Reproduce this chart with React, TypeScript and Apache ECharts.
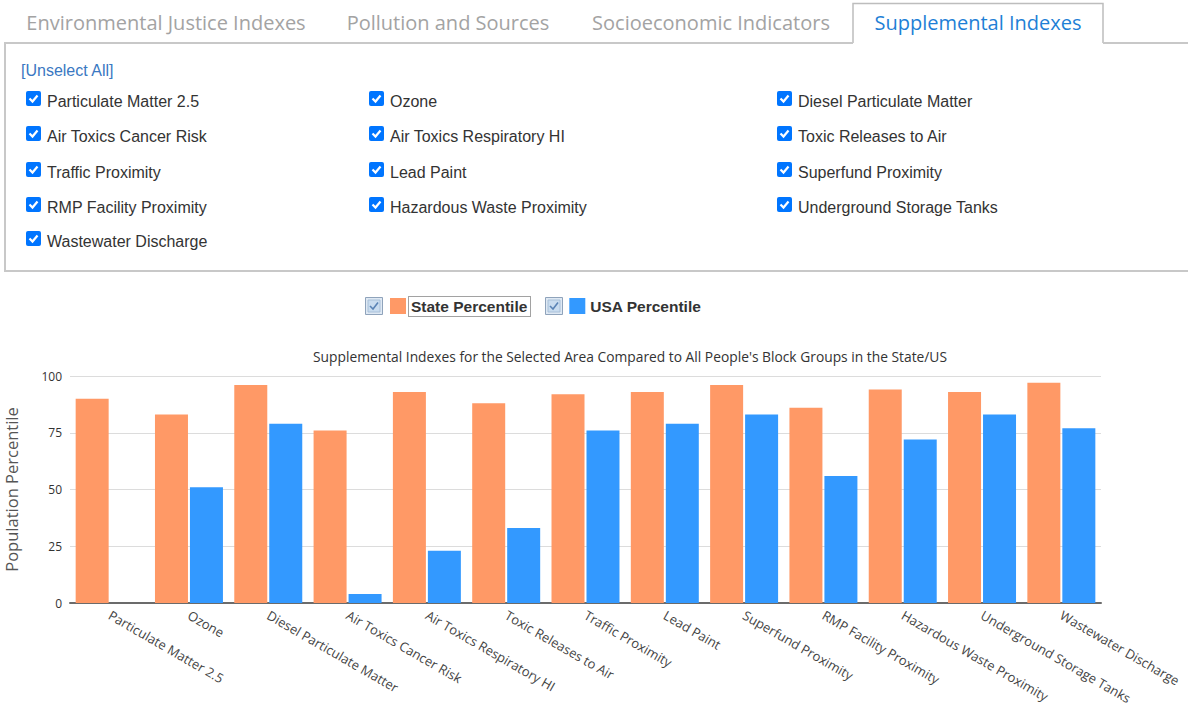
import React, { useEffect, useRef } from "react";
import * as echarts from "echarts";

const categories = [
  "Particulate Matter 2.5",
  "Ozone",
  "Diesel Particulate Matter",
  "Air Toxics Cancer Risk",
  "Air Toxics Respiratory HI",
  "Toxic Releases to Air",
  "Traffic Proximity",
  "Lead Paint",
  "Superfund Proximity",
  "RMP Facility Proximity",
  "Hazardous Waste Proximity",
  "Underground Storage Tanks",
  "Wastewater Discharge",
];
const statePercentile = [90, 83, 96, 76, 93, 88, 92, 93, 96, 86, 94, 93, 97];
const usaPercentile = [null, 51, 79, 4, 23, 33, 76, 79, 83, 56, 72, 83, 77];
const tabs = [
  "Environmental Justice Indexes",
  "Pollution and Sources",
  "Socioeconomic Indicators",
  "Supplemental Indexes",
];
const seriesNames = ["State Percentile", "USA Percentile"];
const chartTitle =
  "Supplemental Indexes for the Selected Area Compared to All People's Block Groups in the State/US";
const yAxisTitle = "Population Percentile";

const UI_FONT = '"Open Sans", "Noto Sans", sans-serif';
const ARIAL = '"Liberation Sans", Arial, sans-serif';

function buildGraphic() {
  const g: any[] = [];
  // tabs
  const tabCenters = [166, 448, 711, 978];
  tabs.forEach((t, i) => {
    g.push({
      type: "text",
      x: tabCenters[i],
      y: 22,
      silent: true,
      style: {
        text: t,
        fontFamily: UI_FONT,
        fontSize: 20,
        fill: i === 3 ? "#1e7fd6" : "#a3a3a3",
        align: "center",
        verticalAlign: "middle",
      },
    });
  });
  // active tab box
  g.push({
    type: "polyline",
    silent: true,
    shape: { points: [[853, 43], [853, 3.5], [1103, 3.5], [1103, 43]] },
    style: { stroke: "#bdbdbd", lineWidth: 1.5, fill: null },
  });
  // panel borders
  g.push({
    type: "polyline",
    silent: true,
    shape: { points: [[853, 43], [5, 43], [5, 271], [1188, 271]] },
    style: { stroke: "#c8c8c8", lineWidth: 2, fill: null },
  });
  g.push({
    type: "line",
    silent: true,
    shape: { x1: 1103, y1: 43, x2: 1188, y2: 43 },
    style: { stroke: "#c8c8c8", lineWidth: 2 },
  });
  // unselect all
  g.push({
    type: "text",
    x: 21,
    y: 70,
    silent: true,
    style: {
      text: "[Unselect All]",
      fontFamily: ARIAL,
      fontSize: 16,
      fill: "#3a78c2",
      verticalAlign: "middle",
    },
  });
  // checkboxes
  const colX = [26, 369, 777];
  const rowY = [100, 135, 171, 206, 240];
  categories.forEach((c, i) => {
    const x = colX[i % 3];
    const yc = rowY[Math.floor(i / 3)];
    g.push({
      type: "rect",
      silent: true,
      shape: { x, y: yc - 9, width: 15, height: 15, r: 2 },
      style: { fill: "#0075ff" },
    });
    g.push({
      type: "polyline",
      silent: true,
      shape: {
        points: [
          [x + 3.5, yc - 1.5],
          [x + 6.5, yc + 1.5],
          [x + 11.5, yc - 4.5],
        ],
      },
      style: { stroke: "#ffffff", lineWidth: 2.2, fill: null },
    });
    g.push({
      type: "text",
      x: x + 21,
      y: yc + 1,
      silent: true,
      style: {
        text: c,
        fontFamily: ARIAL,
        fontSize: 16,
        fill: "#333333",
        verticalAlign: "middle",
      },
    });
  });
  // legend checkboxes (old style)
  [365, 545].forEach((x) => {
    g.push({
      type: "rect",
      silent: true,
      shape: { x: x + 0.5, y: 297.5, width: 17, height: 17 },
      style: { fill: "#dfe9f4", stroke: "#8fa3bb", lineWidth: 1 },
    });
    g.push({
      type: "rect",
      silent: true,
      shape: { x: x + 3, y: 300, width: 12, height: 12 },
      style: { fill: "#c9dcef", stroke: "#a9c0d8", lineWidth: 1 },
    });
    g.push({
      type: "polyline",
      silent: true,
      shape: {
        points: [
          [x + 5, 306],
          [x + 8, 309],
          [x + 13, 302.5],
        ],
      },
      style: { stroke: "#5a83b5", lineWidth: 1.6, fill: null },
    });
  });
  // dotted focus border
  g.push({
    type: "rect",
    silent: true,
    shape: { x: 408.5, y: 296.5, width: 122, height: 20 },
    style: { fill: null, stroke: "#444", lineWidth: 1, lineDash: [1, 1] },
  });
  return g;
}

export default function App() {
  const ref = useRef<HTMLDivElement>(null);
  useEffect(() => {
    if (!ref.current) return;
    const chart = echarts.init(ref.current, null, { renderer: "svg" });
    chart.setOption({
      animation: false,
      backgroundColor: "#ffffff",
      title: {
        text: chartTitle,
        left: 630,
        top: 349,
        textAlign: "center",
        padding: 0,
        textStyle: {
          fontFamily: UI_FONT,
          fontSize: 13.8,
          fontWeight: "normal",
          color: "#333333",
        },
      },
      legend: {
        left: 390,
        top: 298,
        padding: 0,
        itemWidth: 16,
        itemHeight: 16,
        itemGap: 42,
        icon: "rect",
        data: seriesNames,
        itemStyle: { borderWidth: 0 },
        textStyle: {
          fontFamily: ARIAL,
          fontSize: 15.5,
          fontWeight: "bold",
          color: "#333333",
        },
      },
      grid: {
        left: 70,
        right: 87,
        top: 376,
        bottom: 105,
        containLabel: false,
        outerBoundsMode: "none",
      },
      xAxis: {
        type: "category",
        data: categories,
        axisLine: { lineStyle: { color: "#6b6b6b", width: 2 } },
        axisTick: { show: false },
        axisLabel: {
          interval: 0,
          rotate: -30,
          margin: 11,
          fontFamily: UI_FONT,
          fontSize: 13,
          color: "#444444",
        },
      },
      yAxis: {
        type: "value",
        min: 0,
        max: 100,
        interval: 25,
        name: yAxisTitle,
        nameLocation: "middle",
        nameGap: 50,
        nameTextStyle: { fontFamily: UI_FONT, fontSize: 16.5, color: "#555555" },
        axisLine: { show: false },
        axisTick: { show: false },
        axisLabel: { fontFamily: UI_FONT, fontSize: 12, color: "#333333", margin: 8 },
        splitLine: { lineStyle: { color: "#dcdcdc", width: 1 } },
      },
      series: [
        {
          name: seriesNames[0],
          type: "bar",
          data: statePercentile,
          barWidth: 33,
          barGap: "6%",
          itemStyle: { color: "#FF9966" },
        },
        {
          name: seriesNames[1],
          type: "bar",
          data: usaPercentile,
          barWidth: 33,
          barGap: "6%",
          itemStyle: { color: "#3399FF" },
        },
      ],
      graphic: buildGraphic(),
    });
    return () => chart.dispose();
  }, []);
  return (
    <div
      ref={ref}
      style={{ position: "fixed", left: 0, top: 0, width: 1188, height: 708 }}
    />
  );
}
